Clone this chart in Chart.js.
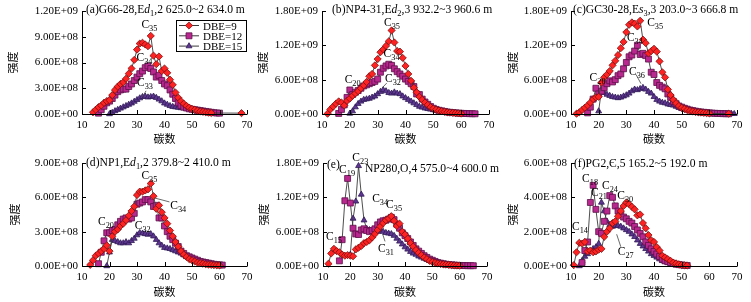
<!DOCTYPE html>
<html>
<head>
<meta charset="utf-8">
<script src="https://cdn.jsdelivr.net/npm/chart.js@4.4.1/dist/chart.umd.min.js"></script>
<style>
  body { margin: 0; background: #fff; }
  #wrap { position: relative; width: 751px; height: 302px; overflow: hidden; background: #fff; }
  canvas { position: absolute; }
</style>
</head>
<body>
<div id="wrap"></div>
<script>
// axis ticks: carbon number, intensity in units of 1e8
const xTicks = [10, 20, 30, 40, 50, 60, 70];
const yTicksA = [0, 3, 6, 9, 12];
const yTicksB = [0, 6, 12, 18];
const yTicksC = [0, 6, 12, 18];
const yTicksD = [0, 3, 6, 9];
const yTicksE = [0, 6, 12, 18];
const yTicksF = [0, 2, 4, 6];

const seriesNames = ["DBE=9", "DBE=12", "DBE=15"];

// each series: first carbon number + intensities (x1e8), null = no point
const aStart = [14, 16, 20];
const a9 = [0.2, 0.5, 0.8, 1.0, 1.3, 1.5, 1.6, 2.2, 2.8, 3.2, 3.5, 3.7, 4.1, 4.7, 5.3, 6.3, 7.5, 8.2, 8.3, 8.1, 7.9, 9.1, 6.8, 5.8, 6.7, 5.0, 5.3, 4.8, 4.0, 3.4, 2.5, 1.9, 1.5, 1.2, 0.95, 0.75, 0.6, 0.5, 0.4, 0.3, 0.25, 0.2, 0.15, 0.12, null, null, null, null, null, null, null, null, null, null, 0.1];
const a12 = [0.1, 0.5, 0.9, 1.3, 1.5, 1.8, 2.2, 2.6, 2.8, 2.9, 2.9, 3.2, 3.5, 3.9, 4.3, 4.7, 5.0, 5.4, 5.6, 5.3, 4.9, 4.3, 4.5, 3.9, 3.5, 3.3, 2.8, 2.3, 1.8, 1.3, 1.0, 0.8, 0.7, 0.6, 0.55, 0.5, 0.45, 0.4, 0.35, 0.3, 0.25, 0.2, 0.15, 0.12, 0.1];
const a15 = [0.0, 0.15, 0.35, 0.5, 0.65, 0.8, 0.95, 1.1, 1.25, 1.45, 1.65, 1.85, 2.0, 2.05, 1.95, 2.0, 2.05, 1.9, 1.7, 1.5, 1.25, 1.1, 0.95, 0.85, 0.8, 0.75, 0.7, 0.7, 0.65, 0.6, 0.5, 0.4, 0.3, 0.25, 0.2, 0.15, 0.12, 0.1, 0.08, 0.06];

const bStart = [12, 16, 20];
const b9 = [0.05, 0.8, 1.3, 1.8, 2.2, 2.0, 1.5, 2.3, 2.7, 3.2, 3.6, 4.0, 4.5, 5.0, 5.6, 6.6, 7.0, 8.5, 9.6, 10.8, 11.3, 11.9, 12.7, 14.6, 12.5, 11.0, 10.9, 9.8, 8.4, 7.0, 5.8, 4.6, 3.8, 3.0, 2.5, 2.0, 1.6, 1.2, 0.95, 0.75, 0.6, 0.5, 0.4, 0.3, 0.25, 0.2, 0.15, 0.1, 0.08];
const b12 = [0.1, 0.8, 1.6, 2.9, 4.2, 3.4, 3.8, 4.1, 4.5, 4.9, 5.1, 5.3, 5.5, 5.7, 6.1, 7.3, 8.0, 8.4, 8.7, 8.5, 7.9, 7.4, 7.0, 6.6, 6.1, 5.7, 5.3, 4.8, 3.5, 3.4, 2.6, 2.1, 1.7, 1.3, 1.0, 0.8, 0.65, 0.55, 0.45, 0.35, 0.3, 0.25, 0.2, 0.15, 0.12, 0.1, 0.08, 0.06, 0.05, 0.04];
const b15 = [0.1, 0.5, 1.2, 1.8, 2.2, 2.5, 2.6, 2.7, 2.9, 3.1, 3.5, 3.9, 4.2, 4.0, 3.7, 3.6, 3.8, 3.6, 3.5, 3.1, 2.8, 2.5, 2.2, 1.9, 1.6, 1.3, 1.15, 1.0, 0.9, 0.8, 0.7, 0.6, 0.5, 0.4, 0.35, 0.3, 0.25, 0.2, 0.15, 0.1, 0.08];

const cStart = [12, 16, 20];
const c9 = [0.05, 0.3, 0.7, 1.1, 1.5, 2.0, 2.6, 2.9, 3.0, 5.5, 6.4, 6.9, 7.5, 8.5, 9.3, 10.3, 11.5, 12.6, 14.3, 15.6, 16.0, 15.8, 15.3, 16.3, 13.0, 12.4, 10.6, 11.0, 11.4, 10.9, 9.2, 7.3, 6.4, 4.3, 3.3, 2.5, 1.9, 1.4, 1.1, 0.9, 0.7, 0.55, 0.45, 0.35, 0.3, 0.25, 0.2, 0.15, 0.1, null, null, null, null, null, null, 0.05];
const c12 = [0.2, 1.2, 2.6, 4.5, 3.5, 4.0, 4.6, 5.3, 5.8, 5.6, 6.0, 6.7, 7.0, 7.9, 9.0, 10.0, 10.3, 11.0, 12.0, 10.4, 10.6, 10.2, 9.6, 7.3, 6.9, 5.5, 5.0, 4.7, 4.4, 3.5, 2.9, 2.2, 1.8, 1.4, 1.2, 1.0, 0.85, 0.7, 0.6, 0.5, 0.4, 0.35, 0.3, 0.25, 0.2, 0.15, 0.12, 0.1, 0.08, 0.06, 0.05, 0.04];
const c15 = [0.5, 4.2, 3.7, 3.4, 3.2, 3.0, 2.9, 2.8, 2.9, 3.1, 3.3, 3.6, 4.0, 4.3, 4.2, 4.4, 4.6, 4.3, 3.9, 3.6, 3.0, 2.5, 2.2, 2.0, 1.9, 1.7, 1.6, 1.5, 1.3, 1.1, 0.9, 0.8, 0.7, 0.55, 0.45, 0.35, 0.3, 0.25, 0.2, 0.15, 0.12, 0.1, 0.08, 0.07, 0.06, 0.05, 0.05, 0.04, 0.04, 0.03];

const dStart = [13, 16, 19];
const d9 = [0.1, 0.5, 0.9, 1.1, 1.3, 1.5, 1.8, 1.3, 2.6, 3.0, 3.2, 3.5, 3.7, 4.0, 4.4, 4.8, 5.2, 6.2, 6.5, 6.5, 6.6, 6.7, 7.2, 6.1, 5.0, 5.3, 4.7, 4.2, 3.7, 3.1, 2.6, 2.1, 1.7, 1.3, 1.0, 0.8, 0.6, 0.5, 0.4, 0.3, 0.25, 0.2, 0.15, 0.12, 0.1, 0.08, 0.06, 0.05];
const d12 = [0.2, 1.2, 2.2, 2.9, 2.9, 3.1, 3.2, 3.6, 3.9, 4.1, 4.2, 4.1, 4.2, 4.6, 5.4, 5.5, 5.6, 5.8, 5.8, 5.6, 5.2, 5.3, 4.2, 4.2, 3.5, 3.0, 2.6, 2.3, 2.0, 1.7, 1.3, 1.1, 0.9, 0.8, 0.7, 0.6, 0.5, 0.4, 0.35, 0.3, 0.25, 0.2, 0.15, 0.12, 0.1, 0.08];
const d15 = [0.0, 1.2, 2.3, 2.2, 2.1, 2.0, 2.0, 2.1, 2.0, 2.2, 2.4, 2.7, 2.9, 2.85, 2.8, 2.75, 2.8, 2.6, 2.3, 2.0, 1.8, 1.6, 1.55, 1.5, 1.4, 1.3, 1.2, 1.1, 0.95, 0.85, 0.75, 0.65, 0.55, 0.45, 0.35, 0.3, 0.25, 0.2, 0.15, 0.1, 0.08, 0.05];

const eStart = [12, 16, 20];
const e9 = [0.4, 2.2, 3.0, 2.6, 2.4, 2.0, 1.8, 1.9, 1.8, 1.7, 2.9, 3.2, 3.5, 4.0, 4.2, 4.5, 5.0, 5.6, 6.3, 6.9, 7.5, 8.0, 8.3, 8.7, 7.9, 7.0, 7.4, 6.0, 5.5, 4.8, 4.0, 3.4, 2.8, 2.3, 1.9, 1.5, 1.2, 0.9, 0.7, 0.55, 0.45, 0.35, 0.3, 0.25, 0.2, 0.15, 0.1, 0.08, 0.05];
const e12 = [0.9, 4.6, 11.4, 15.3, 11.0, 6.6, 5.6, 5.5, 6.3, 6.5, 6.2, 6.0, 6.2, 6.5, 7.2, 7.7, 7.9, 8.0, 8.2, 8.5, 8.1, 7.3, 6.6, 5.8, 5.3, 4.8, 4.2, 3.6, 3.0, 2.6, 2.2, 1.8, 1.5, 1.2, 1.0, 0.8, 0.6, 0.5, 0.4, 0.3, 0.25, 0.2, 0.15, 0.12, 0.1, 0.08, 0.07, 0.06, 0.05, 0.05];
const e15 = [2.0, 8.3, 11.3, 17.5, 12.5, 8.0, 6.5, 6.3, 6.0, 5.9, 6.0, 6.3, 6.0, 5.8, 5.7, 5.6, 5.3, 4.8, 4.3, 3.8, 3.3, 2.9, 2.5, 2.2, 2.0, 1.7, 1.5, 1.3, 1.1, 0.9, 0.8, 0.65, 0.55, 0.45, 0.35, 0.3, 0.25, 0.2, 0.15, 0.12, 0.1, 0.08, 0.06];

const fStart = [11, 14, 13];
const f9 = [0.05, 0.8, 1.35, 1.3, 1.4, 0.85, 0.9, 0.8, 0.85, 0.95, 1.0, 1.7, 2.0, 2.2, 2.5, 2.6, 2.9, 3.2, 3.5, 3.7, 3.6, 3.45, 3.3, 2.95, 3.0, 2.5, 2.2, 1.8, 1.5, 1.4, 1.1, 0.9, 0.6, 0.5, 0.4, 0.3, 0.2, 0.15, 0.1, 0.06, 0.04, 0.03];
const f12 = [0.2, 0.9, 1.4, 3.7, 4.7, 3.3, 2.0, 1.9, 2.6, 3.2, 4.1, 4.0, 3.5, 3.2, 3.0, 2.85, 2.75, 2.6, 2.5, 2.3, 2.1, 1.9, 1.7, 1.4, 1.2, 1.0, 0.85, 0.7, 0.55, 0.4, 0.3, 0.25, 0.2, 0.15, 0.1, 0.08, 0.06, 0.04, 0.03];
const f15 = [0.0, 0.3, 0.55, 0.7, 0.85, 1.0, 1.1, 1.3, 3.7, 3.2, 2.6, 2.4, 2.3, 2.35, 2.35, 2.3, 2.2, 2.1, 2.0, 1.85, 1.7, 1.5, 1.3, 1.15, 1.0, 0.85, 0.7, 0.6, 0.5, 0.4, 0.3, 0.25, 0.2, 0.15, 0.1, 0.08, 0.05, 0.03];

// peak labels: subscript carbon number, placed at (carbon, intensity)
const notesA = [
  { n: "35", c: 34.5, v: 10.5 },
  { n: "34", c: 32.7, v: 6.6 },
  { n: "33", c: 32.9, v: 3.7, lead: [33.3, 2.7, 32.0, 2.0] },
];
const notesB = [
  { n: "35", c: 35.15, v: 16.1 },
  { n: "34", c: 35.0, v: 10.7 },
  { n: "32", c: 35.5, v: 6.3, lead: [33.25, 5.4, 31.5, 4.5] },
  { n: "20", c: 21.0, v: 6.1 },
];
const notesC = [
  { n: "35", c: 40.4, v: 16.0 },
  { n: "34", c: 33.1, v: 13.5 },
  { n: "36", c: 33.85, v: 7.6, lead: [33.5, 6.9, 35.3, 5.3] },
  { n: "20", c: 19.6, v: 6.4 },
];
const notesD = [
  { n: "35", c: 34.5, v: 7.95 },
  { n: "34", c: 45.0, v: 5.3, lead: [36.3, 5.95, 41.8, 5.6] },
  { n: "20", c: 18.7, v: 3.9 },
  { n: "32", c: 32.1, v: 3.6 },
];
const notesE = [
  { n: "19", c: 18.8, v: 16.95 },
  { n: "23", c: 23.65, v: 19.1 },
  { n: "15", c: 14.0, v: 5.25 },
  { n: "34", c: 30.9, v: 11.9 },
  { n: "35", c: 36.0, v: 10.75 },
  { n: "31", c: 33.05, v: 3.2, lead: [32.7, 4.3, 31.8, 5.6] },
];
const notesF = [
  { n: "18", c: 16.9, v: 5.14 },
  { n: "21", c: 20.1, v: 4.33 },
  { n: "24", c: 24.1, v: 4.72 },
  { n: "30", c: 29.6, v: 4.14 },
  { n: "14", c: 13.25, v: 2.33 },
  { n: "27", c: 29.8, v: 0.87, lead: [26.5, 1.85, 28.0, 1.12] },
];

const serif = "'Liberation Serif', 'Times New Roman', serif";
const cjk = "'Noto Sans CJK SC', sans-serif";
const lineColor = "#3a3a3a";
const fillColors = ["#ff2222", "#b8288f", "#5e3590"];
const edgeColors = ["#7a1010", "#5c1048", "#2f1a55"];
const markerStyles = ["rectRot", "rect", "triangle"];
const markerSizes = [3.6, 4.2, 3.4];

Chart.defaults.font.family = serif;
Chart.defaults.font.size = 11;
Chart.defaults.color = "#000";

const panels = [
  { left: 0, top: 0, w: 262, h: 145, yW: 82, xH: 31, yTitlePad: 6,
    pad: { left: 0, right: 15, top: 11, bottom: 0 },
    yTicks: yTicksA, starts: aStart, vals: [a9, a12, a15], notes: notesA, legend: true,
    titles: [{ dx: 4, cy: 9, segs: [["(a)G66-28,E"], ["d", "i"], ["1", "s"], [",2 625.0~2 634.0 m"]] }] },
  { left: 250, top: 0, w: 262, h: 145, yW: 72, xH: 31, yTitlePad: 6,
    pad: { left: 0, right: 23, top: 11, bottom: 0 },
    yTicks: yTicksB, starts: bStart, vals: [b9, b12, b15], notes: notesB,
    titles: [{ dx: 10, cy: 9, segs: [["(b)NP4-31,E"], ["d", "i"], ["2", "s"], [",3 932.2~3 960.6 m"]] }] },
  { left: 500, top: 0, w: 251, h: 145, yW: 71, xH: 31, yTitlePad: 6,
    pad: { left: 0, right: 14, top: 11, bottom: 0 },
    yTicks: yTicksC, starts: cStart, vals: [c9, c12, c15], notes: notesC,
    titles: [{ dx: 2, cy: 9, segs: [["(c)GC30-28,E"], ["s", "i"], ["3", "s"], [",3 203.0~3 666.8 m"]] }] },
  { left: 0, top: 145, w: 262, h: 157, yW: 82, xH: 32, yTitlePad: 8,
    pad: { left: 0, right: 15, top: 18, bottom: 4 },
    yTicks: yTicksD, starts: dStart, vals: [d9, d12, d15], notes: notesD,
    titles: [{ dx: 4, cy: 17, segs: [["(d)NP1,E"], ["d", "i"], ["1", "s"], [",2 379.8~2 410.0 m"]] }] },
  { left: 250, top: 145, w: 262, h: 157, yW: 73, xH: 32, yTitlePad: 7,
    pad: { left: 0, right: 25, top: 18, bottom: 4 },
    yTicks: yTicksE, starts: eStart, vals: [e9, e12, e15], notes: notesE,
    titles: [{ dx: 4, cy: 19, segs: [["(e)"]] }, { dx: 42, cy: 23, segs: [["NP280,O,4 575.0~4 600.0 m"]] }] },
  { left: 500, top: 145, w: 251, h: 157, yW: 71, xH: 32, yTitlePad: 6,
    pad: { left: 0, right: 14, top: 18, bottom: 4 },
    yTicks: yTicksF, starts: fStart, vals: [f9, f12, f15], notes: notesF,
    titles: [{ dx: 3, cy: 18, segs: [["(f)PG2,Є,5 165.2~5 192.0 m"]] }] },
];

function toPoints(start, vals) {
  return vals.map((v, i) => ({ x: start + i, y: v }));
}

// 12 -> "1.20E+09"
function fmtE(v) {
  const parts = (v * 1e8).toExponential(2).split("e");
  const e = +parts[1];
  return parts[0] + "E" + (e < 0 ? "-" : "+") + String(Math.abs(e)).padStart(2, "0");
}

function setFont(ctx, st, base) {
  const size = st === "s" ? base * 0.72 : base;
  ctx.font = (st === "i" ? "italic " : "") + size + "px " + serif;
}

function runsWidth(ctx, segs, base) {
  let w = 0;
  segs.forEach(([t, st]) => { setFont(ctx, st, base); w += ctx.measureText(t).width; });
  return w;
}

function drawRuns(ctx, x, y, segs, base) {
  segs.forEach(([t, st]) => {
    setFont(ctx, st, base);
    ctx.fillText(t, x, st === "s" ? y + 3 : y);
    x += ctx.measureText(t).width;
  });
}

function makeDecor(p) {
  return {
    id: "decor",
    afterDraw(chart) {
      const ctx = chart.ctx;
      const { left, right, top, bottom } = chart.chartArea;
      const xs = chart.scales.x, ys = chart.scales.y;
      const px = (c) => xs.getPixelForValue(c);
      const py = (v) => ys.getPixelForValue(v);
      ctx.save();

      // axes, ticks pointing inward
      ctx.strokeStyle = "#000";
      ctx.lineWidth = 1;
      ctx.beginPath();
      ctx.moveTo(left + 0.5, top);
      ctx.lineTo(left + 0.5, bottom + 0.5);
      ctx.lineTo(right + 0.5, bottom + 0.5);
      p.yTicks.forEach((v) => {
        const y = Math.round(py(v)) + 0.5;
        ctx.moveTo(left, y);
        ctx.lineTo(left + 4, y);
      });
      xTicks.forEach((c) => {
        const x = Math.round(px(c)) + 0.5;
        ctx.moveTo(x, bottom);
        ctx.lineTo(x, bottom - 4);
      });
      ctx.stroke();

      // panel title
      ctx.fillStyle = "#000";
      ctx.textBaseline = "alphabetic";
      ctx.textAlign = "left";
      p.titles.forEach((t) => drawRuns(ctx, left + t.dx, t.cy + 4, t.segs, 11.6));

      // peak labels
      p.notes.forEach((n) => {
        const segs = [["C"], [n.n, "s"]];
        const w = runsWidth(ctx, segs, 11.5);
        ctx.fillStyle = "#000";
        drawRuns(ctx, px(n.c) - w / 2, py(n.v) + 4, segs, 11.5);
        if (n.lead) {
          ctx.strokeStyle = "#444";
          ctx.lineWidth = 0.8;
          ctx.beginPath();
          ctx.moveTo(px(n.lead[0]), py(n.lead[1]));
          ctx.lineTo(px(n.lead[2]), py(n.lead[3]));
          ctx.stroke();
        }
      });

      // legend box (panel a only)
      if (p.legend) {
        ctx.strokeStyle = "#000";
        ctx.lineWidth = 1;
        ctx.strokeRect(176.5, 20.5, 70, 31);
        seriesNames.forEach((name, i) => {
          const y = 25.5 + i * 10.3;
          ctx.strokeStyle = lineColor;
          ctx.lineWidth = 1;
          ctx.beginPath();
          ctx.moveTo(179, y);
          ctx.lineTo(199, y);
          ctx.stroke();
          ctx.fillStyle = fillColors[i];
          ctx.strokeStyle = edgeColors[i];
          ctx.lineWidth = 0.8;
          Chart.helpers.drawPoint(ctx, { pointStyle: markerStyles[i], rotation: 0, radius: markerSizes[i], borderWidth: 0.8 }, 189, y);
          ctx.fillStyle = "#000";
          ctx.font = "11px " + serif;
          ctx.fillText(name, 203, y + 4);
        });
      }
      ctx.restore();
    },
  };
}

function makeChart(p) {
  const cv = document.createElement("canvas");
  cv.width = p.w;
  cv.height = p.h;
  cv.style.left = p.left + "px";
  cv.style.top = p.top + "px";
  document.getElementById("wrap").appendChild(cv);

  new Chart(cv, {
    type: "line",
    data: {
      datasets: p.vals.map((vals, i) => ({
        label: seriesNames[i],
        data: toPoints(p.starts[i], vals),
        borderColor: lineColor,
        borderWidth: 0.9,
        pointStyle: markerStyles[i],
        pointRadius: markerSizes[i],
        pointBackgroundColor: fillColors[i],
        pointBorderColor: edgeColors[i],
        pointBorderWidth: 0.8,
        spanGaps: true,
        clip: false,
        tension: 0,
      })),
    },
    options: {
      responsive: false,
      animation: false,
      events: [],
      layout: { padding: p.pad },
      plugins: { legend: { display: false }, tooltip: { enabled: false } },
      scales: {
        x: {
          type: "linear",
          min: 10,
          max: 70,
          afterBuildTicks: (s) => { s.ticks = xTicks.map((v) => ({ value: v })); },
          afterFit: (s) => { s.height = p.xH; },
          grid: { display: false, drawTicks: false },
          border: { display: false },
          ticks: { padding: 5, color: "#000", font: { size: 11 } },
          title: { display: true, text: "碳数", color: "#000", font: { family: cjk, size: 11 }, padding: { top: 0, bottom: 0 } },
        },
        y: {
          min: 0,
          max: p.yTicks[p.yTicks.length - 1],
          afterBuildTicks: (s) => { s.ticks = p.yTicks.map((v) => ({ value: v })); },
          afterFit: (s) => { s.width = p.yW; },
          grid: { display: false, drawTicks: false },
          border: { display: false },
          ticks: { padding: 4, color: "#000", font: { size: 11 }, callback: (v) => fmtE(v) },
          title: { display: true, text: "强度", color: "#000", font: { family: cjk, size: 11 }, padding: { top: p.yTitlePad, bottom: 0 } },
        },
      },
    },
    plugins: [makeDecor(p)],
  });
}

panels.forEach(makeChart);
</script>
</body>
</html>
